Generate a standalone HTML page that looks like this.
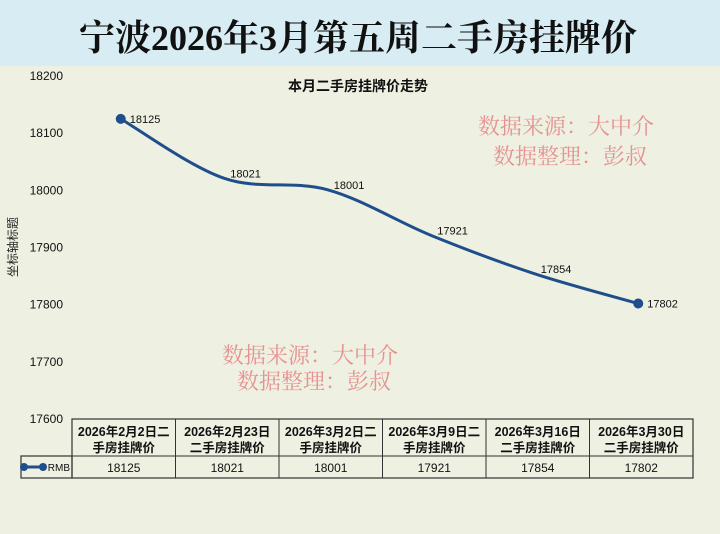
<!DOCTYPE html>
<html><head><meta charset="utf-8"><style>
body{margin:0;width:720px;height:534px;overflow:hidden;background:#eef0e2;font-family:"Liberation Sans","Noto Sans CJK SC",sans-serif}
svg{display:block}
</style></head><body>
<svg width="720" height="534">
<rect x="0" y="0" width="720" height="534" fill="#eef0e2"/>
<rect x="0" y="0" width="720" height="66" fill="#d8ecf3"/>
<text x="358" y="50" text-anchor="middle" font-family="'Liberation Serif','Noto Serif CJK SC',serif" font-size="36" font-weight="bold" fill="#111">宁波2026年3月第五周二手房挂牌价</text>
<text x="358" y="91" text-anchor="middle" font-size="14" font-weight="bold" fill="#111">本月二手房挂牌价走势</text>
<text transform="translate(17,247) rotate(-90)" text-anchor="middle" font-size="12" fill="#222">坐标轴标题</text>
<g id="yaxis"></g>
<g id="series"></g>
<g id="table"></g>
<g fill="#e58a8a" font-family="'Noto Serif CJK SC',serif" font-size="22" opacity="0.9">
<text x="478" y="134">数据来源：大中介</text>
<text x="493" y="164">数据整理：彭叔</text>
<text x="222" y="363">数据来源：大中介</text>
<text x="237" y="389">数据整理：彭叔</text>
</g>
</svg>
<script>
const categories1=["2026年2月2日二","2026年2月23日","2026年3月2日二","2026年3月9日二","2026年3月16日","2026年3月30日"];
const categories2=["手房挂牌价","二手房挂牌价","手房挂牌价","手房挂牌价","二手房挂牌价","二手房挂牌价"];
const values=[18125,18021,18001,17921,17854,17802];
const yTicks=[18200,18100,18000,17900,17800,17700,17600];
const NS="http://www.w3.org/2000/svg";
const yMin=17600,yMax=18200,topY=76,botY=419;
const x0=72,colW=103.5;
const y=v=>botY-(v-yMin)/(yMax-yMin)*(botY-topY);
const x=i=>x0+colW*(i+0.5)-3;
function mk(t,a,p){const e=document.createElementNS(NS,t);for(const k in a)e.setAttribute(k,a[k]);p.appendChild(e);return e;}
const ya=document.getElementById('yaxis');
yTicks.forEach(v=>{const t=mk('text',{x:63,y:y(v)+4,'text-anchor':'end','font-size':12,fill:'#111'},ya);t.textContent=v;

});
const s=document.getElementById('series');
const pts=values.map((v,i)=>[x(i),y(v)]);
let d=`M${pts[0][0]},${pts[0][1]}`;
for(let i=0;i<pts.length-1;i++){const p0=pts[Math.max(0,i-1)],p1=pts[i],p2=pts[i+1],p3=pts[Math.min(pts.length-1,i+2)];
d+=` C${p1[0]+(p2[0]-p0[0])/6},${p1[1]+(p2[1]-p0[1])/6} ${p2[0]-(p3[0]-p1[0])/6},${p2[1]-(p3[1]-p1[1])/6} ${p2[0]},${p2[1]}`;}
const line=mk('path',{d:d,fill:'none',stroke:'#1f4e8c','stroke-width':3},s);


[0,pts.length-1].forEach(i=>{const c=mk('circle',{cx:pts[i][0],cy:pts[i][1],r:5,fill:'#1f4e8c'},s);

});
values.forEach((v,i)=>{const first=i==0||i==values.length-1;
const t=mk('text',{x:pts[i][0]+(first?9:6),y:pts[i][1]+(first?4:-1),'font-size':11,fill:'#111'},s);t.textContent=v;

});
const tb=document.getElementById('table');
const L='#333';
mk('rect',{x:x0,y:419,width:colW*6,height:59,fill:'none',stroke:L,'stroke-width':1.2},tb);
mk('rect',{x:21,y:456,width:x0-21,height:22,fill:'none',stroke:L,'stroke-width':1.2},tb);
mk('line',{x1:x0,y1:456,x2:x0+colW*6,y2:456,stroke:L},tb);
for(let i=1;i<6;i++)mk('line',{x1:x0+colW*i,y1:419,x2:x0+colW*i,y2:478,stroke:L},tb);
mk('line',{x1:22,y1:467,x2:44,y2:467,stroke:'#1f4e8c','stroke-width':3},tb);
mk('circle',{cx:24,cy:467,r:4,fill:'#1f4e8c'},tb);mk('circle',{cx:43,cy:467,r:4,fill:'#1f4e8c'},tb);
const lg=mk('text',{x:70,y:471,'text-anchor':'end','font-size':10,fill:'#111'},tb);lg.textContent='RMB';


categories1.forEach((c,i)=>{const cx=x0+colW*(i+0.5);
const a=mk('text',{x:cx,y:436,'text-anchor':'middle','font-size':12.5,'font-weight':'bold',fill:'#111'},tb);a.textContent=c;


const b=mk('text',{x:cx,y:452,'text-anchor':'middle','font-size':12.5,'font-weight':'bold',fill:'#111'},tb);b.textContent=categories2[i];


const v=mk('text',{x:cx,y:472,'text-anchor':'middle','font-size':12,fill:'#111'},tb);v.textContent=values[i];

});
</script>
</body></html>
